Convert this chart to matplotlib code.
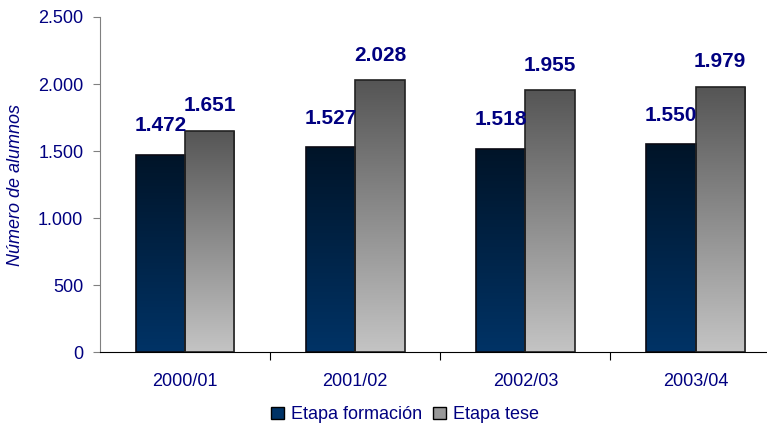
import numpy as np
import matplotlib
matplotlib.use('Agg')
import matplotlib.pyplot as plt
from matplotlib.colors import LinearSegmentedColormap
from matplotlib.ticker import FuncFormatter, FixedLocator
from matplotlib.patches import Patch

plt.rcParams['font.family'] = ['Liberation Sans', 'DejaVu Sans']

cursos = ['2000/01', '2001/02', '2002/03', '2003/04']
formacion = [1472, 1527, 1518, 1550]
tese = [1651, 2028, 1955, 1979]
etiquetas = ['Etapa formación', 'Etapa tese']

navy = '#000080'
cmap_form = LinearSegmentedColormap.from_list('form', ['#001428', '#003366'])
cmap_tese = LinearSegmentedColormap.from_list('tese', ['#555555', '#c4c4c4'])

fig = plt.figure(figsize=(7.67, 4.30), dpi=100)
ax = fig.add_axes([0.1304, 0.181, 0.8696, 0.7795])

x = np.arange(len(cursos))
w = 0.29
grad = np.linspace(0, 1, 256).reshape(-1, 1)

def bars_grad(xs, vals, cmap, edge):
    bars = ax.bar(xs, vals, w, facecolor='none', edgecolor=edge, linewidth=1.2, zorder=3)
    for b in bars:
        x0, y0 = b.get_x(), b.get_y()
        im = ax.imshow(grad, cmap=cmap, aspect='auto', origin='upper',
                       extent=[x0, x0 + b.get_width(), y0, y0 + b.get_height()], zorder=2)
        im.set_clip_path(b)
    return bars

b1 = bars_grad(x - w / 2, formacion, cmap_form, '#0a0a14')
b2 = bars_grad(x + w / 2, tese, cmap_tese, '#222222')

fmt = lambda v: f'{v:,.0f}'.replace(',', '.')
for xi, v in zip(x - w / 2, formacion):
    ax.annotate(fmt(v), (xi, v), xytext=(0, 21), textcoords='offset points',
                ha='center', va='center', color=navy, fontsize=15, fontweight='bold')
for xi, v in zip(x + w / 2, tese):
    ax.annotate(fmt(v), (xi, v), xytext=(0, 18), textcoords='offset points',
                ha='center', va='center', color=navy, fontsize=15, fontweight='bold')

ax.set_xlim(-0.5, 3.42)
ax.set_ylim(0, 2500)
ax.set_yticks(range(0, 2501, 500))
ax.yaxis.set_major_formatter(FuncFormatter(lambda v, p: fmt(v)))
ax.xaxis.set_major_locator(FixedLocator([0.5, 1.5, 2.5]))
ax.xaxis.set_major_formatter(FuncFormatter(lambda v, p: ''))
ax.set_xticks(x, minor=True)
ax.set_xticklabels(cursos, minor=True)
ax.tick_params(axis='x', which='major', length=6, direction='out', color='black')
ax.tick_params(axis='x', which='minor', length=0, labelsize=13, labelcolor=navy, pad=15)
ax.tick_params(axis='y', length=5, labelsize=13, labelcolor=navy, color='#808080', pad=7)

for s in ['top', 'right']:
    ax.spines[s].set_visible(False)
ax.spines['left'].set_color('#808080')
ax.spines['bottom'].set_color('black')

ax.set_ylabel('Número de alumnos', fontsize=13, style='italic', color=navy, labelpad=10)

handles = [Patch(facecolor='#003366', edgecolor='black'),
           Patch(facecolor='#999999', edgecolor='black')]
fig.legend(handles, etiquetas, loc='center', bbox_to_anchor=(0.528, 0.035), ncol=2,
           frameon=False, fontsize=13, labelcolor=navy, handlelength=0.7, handleheight=0.7,
           handletextpad=0.4, columnspacing=0.6)

fig.savefig('out.png', dpi=100)
